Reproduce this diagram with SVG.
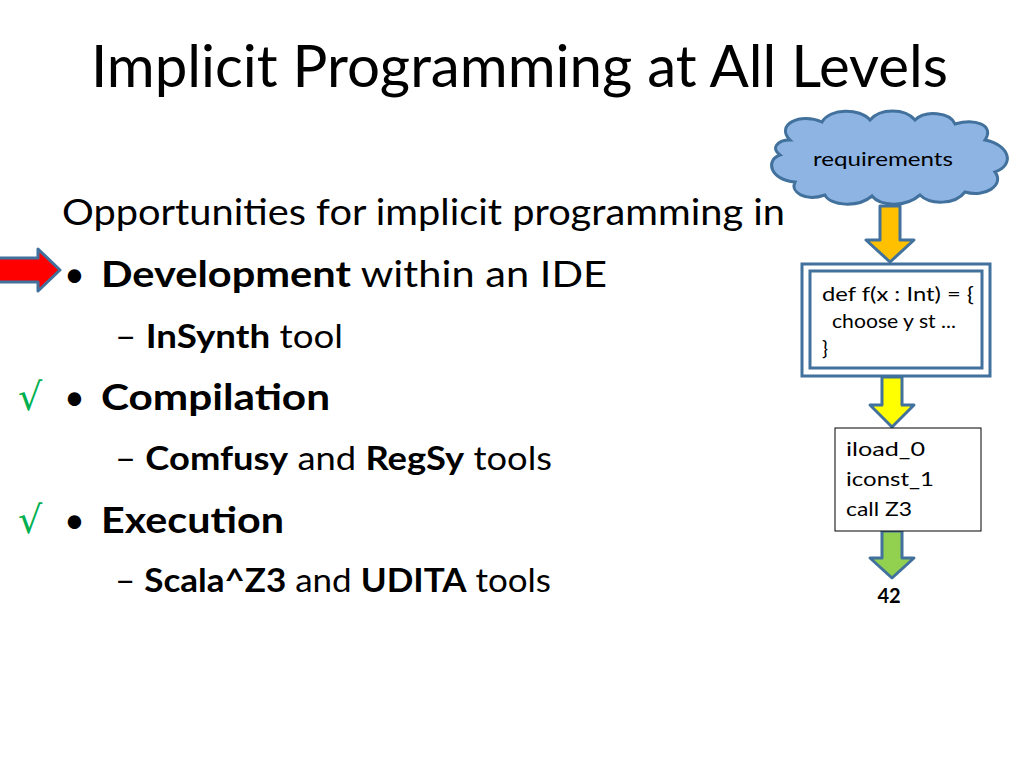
<svg xmlns="http://www.w3.org/2000/svg" width="1024" height="768" viewBox="0 0 1024 768">
<style>
text{font-family:Lato,"Liberation Sans",sans-serif;fill:#000}
.b{font-weight:bold}
.l1{font-size:36px}
.l2{font-size:32px}
.s{font-size:20px}
.arr{stroke:#41719c;stroke-width:3;stroke-linejoin:round}
.chk{font-family:"DejaVu Sans",sans-serif;fill:#00b050;font-size:38px}
</style>
<rect width="1024" height="768" fill="#fff"/>
<text x="91" y="87" font-size="58" textLength="857" lengthAdjust="spacingAndGlyphs">Implicit Programming at All Levels</text>
<text x="62" y="225" class="l1" textLength="723" lengthAdjust="spacingAndGlyphs">Opportunities for implicit programming in</text>
<text x="64" y="287" class="l1">•</text><text x="101" y="287" class="l1" textLength="506" lengthAdjust="spacingAndGlyphs"><tspan class="b">Development</tspan> within an IDE</text>
<text x="115" y="348" class="l2" textLength="228" lengthAdjust="spacingAndGlyphs">– <tspan class="b">InSynth</tspan> tool</text>
<text x="64" y="410" class="l1">•</text><text x="101" y="410" class="l1 b" textLength="229" lengthAdjust="spacingAndGlyphs">Compilation</text>
<text x="115" y="470" class="l2" textLength="437" lengthAdjust="spacingAndGlyphs">– <tspan class="b">Comfusy</tspan> and <tspan class="b">RegSy</tspan> tools</text>
<text x="64" y="533" class="l1">•</text><text x="101" y="533" class="l1 b" textLength="183" lengthAdjust="spacingAndGlyphs">Execution</text>
<text x="115" y="592" class="l2" textLength="436" lengthAdjust="spacingAndGlyphs">– <tspan class="b">Scala^Z3</tspan> and <tspan class="b">UDITA</tspan> tools</text>
<text x="18" y="410" class="chk">√</text>
<text x="18" y="533" class="chk">√</text>
<g id="redArrow"><path class="arr" fill="#ff0000" d="M-5,258 H38 V249 L60,270 L38,291 V282 H-5 Z"/></g>
<g id="requirements">
<path fill="#8eb4e3" stroke="#41719c" stroke-width="3" d="M790,140 C775,125 800,112 822,122 C830,108 860,108 870,120 C880,108 905,108 915,120 C925,110 950,112 955,124 C975,118 995,125 985,140 C1010,145 1015,165 995,172 C1005,185 985,198 965,192 C955,205 930,205 920,195 C905,208 880,206 872,196 C858,208 830,206 825,195 C805,202 790,192 795,182 C770,180 765,160 780,155 C770,148 778,140 790,140 Z"/>
<text x="813" y="166" class="s" textLength="140" lengthAdjust="spacingAndGlyphs">requirements</text></g>
<g id="connectors">
<path class="arr" fill="#ffc000" d="M880,206 H900 V240 H914 L890,262 L866,240 H880 Z"/>
<path class="arr" fill="#ffff00" d="M882,377 H902 V405 H914 L892,427 L870,405 H882 Z"/>
<path class="arr" fill="#92d050" d="M882,531 H902 V558 H914 L892,578 L870,558 H882 Z"/>
</g>
<g id="code">
<rect x="802" y="264" width="188" height="112" fill="#fff" stroke="#41719c" stroke-width="3"/>
<rect x="810" y="271" width="172" height="97" fill="#fff" stroke="#41719c" stroke-width="3"/>
<text class="s" x="822" y="301" textLength="152" lengthAdjust="spacingAndGlyphs">def f(x : Int) = {</text>
<text class="s" x="832" y="328" textLength="124" lengthAdjust="spacingAndGlyphs">choose y st ...</text>
<text class="s" x="822" y="355">}</text></g>
<g id="bytecode">
<rect x="835" y="428" width="146" height="103" fill="#fff" stroke="#000" stroke-width="1"/>
<text class="s" x="846" y="456" textLength="79" lengthAdjust="spacingAndGlyphs">iload_0</text>
<text class="s" x="846" y="486" textLength="88" lengthAdjust="spacingAndGlyphs">iconst_1</text>
<text class="s" x="846" y="516" textLength="66" lengthAdjust="spacingAndGlyphs">call Z3</text></g>
<g id="result"><text class="s b" x="889" y="603" text-anchor="middle">42</text></g>
</svg>
